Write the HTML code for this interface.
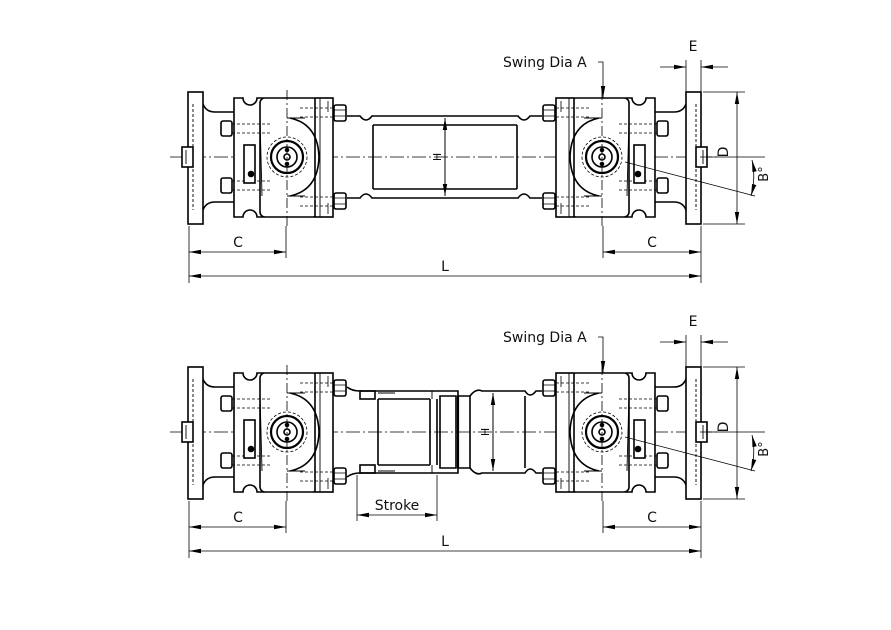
<!DOCTYPE html>
<html><head><meta charset="utf-8"><style>
body{margin:0;background:#fff}
svg{display:block}
text{font-family:"DejaVu Sans","Liberation Sans",sans-serif;fill:#111}
</style></head><body>
<svg width="891" height="630" viewBox="0 0 891 630" xmlns="http://www.w3.org/2000/svg">
<defs>
<marker id="a" markerWidth="12" markerHeight="6" refX="12" refY="3" orient="auto-start-reverse" markerUnits="userSpaceOnUse"><path d="M0,0.8 L12,3 L0,5.2 z" fill="#000"/></marker>
<g id="joint" fill="none" stroke="#000" stroke-width="1.6">
  <rect x="188" y="92" width="15" height="132" fill="#fff"/>
  <line x1="193" y1="104" x2="193" y2="210" stroke-dasharray="3,2" stroke-width="0.9"/>
  <rect x="182" y="147" width="11" height="20" fill="#fff"/>
  <line x1="186" y1="150" x2="186" y2="164" stroke-width="0.9"/>
  <path d="M203,104 Q206,112 215,112 L234,112 M203,210 Q206,202 215,202 L234,202"/>
  <path d="M234,98 L243,98 A7,7 0 0 0 257,98 L263,98 L263,217 L257,217 A7,7 0 0 0 243,217 L234,217 Z" fill="#fff"/>
  <rect x="260" y="98" width="58" height="119" rx="5" fill="#fff"/>
  <line x1="260" y1="118" x2="262" y2="196" stroke-width="0.9"/>
  <rect x="315" y="98" width="18" height="119" fill="#fff"/>
  <line x1="320" y1="98" x2="320" y2="217" stroke-width="0.9"/>
  <path d="M290,118 Q318,124 319,157 Q318,190 290,196" />
  <path d="M287,118 L305,118 M287,196 L305,196" stroke-width="0.9"/>
  <rect x="334" y="105" width="12" height="16" rx="2" fill="#fff"/>
  <rect x="334" y="193" width="12" height="16" rx="2" fill="#fff"/>
  <path d="M334,110 H346 M334,116 H346 M334,198 H346 M334,204 H346" stroke-width="0.8"/>
  <path d="M300,108 H334 M300,117 H334 M300,197 H334 M300,206 H334" stroke-dasharray="3,2" stroke-width="0.8"/>
  <rect x="221" y="121" width="11" height="15" rx="2" fill="#fff"/>
  <rect x="221" y="178" width="11" height="15" rx="2" fill="#fff"/>
  <path d="M232,124 H270 M232,133 H270 M232,181 H270 M232,190 H270" stroke-dasharray="3,2" stroke-width="0.8"/>
  <rect x="244" y="145" width="11" height="38" fill="#fff"/>
  <circle cx="251" cy="174" r="2.5" fill="#000"/>
  <circle cx="287" cy="157" r="20" stroke-dasharray="3,2" stroke-width="0.8"/>
  <circle cx="287" cy="157" r="16" stroke-width="2.2"/>
  <circle cx="287" cy="157" r="10"/>
  <circle cx="287" cy="157" r="3"/>
  <circle cx="287" cy="150" r="1.5" fill="#000"/>
  <circle cx="287" cy="164" r="1.5" fill="#000"/>
  <line x1="328" y1="101" x2="328" y2="112" stroke-width="0.8"/>
  <line x1="328" y1="203" x2="328" y2="214" stroke-width="0.8"/>
  <line x1="287" y1="90" x2="287" y2="226" stroke-dasharray="10,3,2,3" stroke-width="0.8"/>
</g>
<g id="shaftT" fill="none" stroke="#000" stroke-width="1.6">
  <path d="M347,116 L360,116 Q366,124 372,116 L518,116 Q524,124 530,116 L542,116"/>
  <path d="M347,198 L360,198 Q366,190 372,198 L518,198 Q524,190 530,198 L542,198"/>
  <path d="M373,125 H517 M373,189 H517 M373,125 V189 M517,125 V189"/>
</g>
</defs>

<line x1="170" y1="157" x2="720" y2="157" stroke="#000" stroke-width="0.8" stroke-dasharray="14,3,2,3"/>
<use href="#joint"/>
<use href="#joint" transform="translate(889,0) scale(-1,1)"/>
<use href="#shaftT"/>
<line x1="445" y1="118" x2="445" y2="196" stroke="#000" stroke-width="1" marker-start="url(#a)" marker-end="url(#a)"/>
<text x="437" y="161" font-size="11" transform="rotate(-90 437 157)" text-anchor="middle">H</text>

<g stroke="#000" stroke-width="0.8" fill="none">
<line x1="189" y1="226" x2="189" y2="283"/><line x1="286" y1="226" x2="286" y2="258"/>
<line x1="603" y1="226" x2="603" y2="258"/><line x1="701" y1="226" x2="701" y2="283"/>
<line x1="189" y1="252" x2="286" y2="252" marker-start="url(#a)" marker-end="url(#a)"/>
<line x1="603" y1="252" x2="701" y2="252" marker-start="url(#a)" marker-end="url(#a)"/>
<line x1="189" y1="276" x2="701" y2="276" marker-start="url(#a)" marker-end="url(#a)"/>
<path d="M598,62 H603 V98" marker-end="url(#a)"/>
<line x1="686" y1="60" x2="686" y2="92"/><line x1="701" y1="60" x2="701" y2="92"/>
<line x1="660" y1="67" x2="686" y2="67" marker-end="url(#a)"/><line x1="728" y1="67" x2="701" y2="67" marker-end="url(#a)"/>
<line x1="703" y1="92" x2="745" y2="92"/><line x1="703" y1="224" x2="745" y2="224"/>
<line x1="737" y1="92" x2="737" y2="224" marker-start="url(#a)" marker-end="url(#a)"/>
<line x1="700" y1="157" x2="765" y2="157"/>
<line x1="625" y1="162" x2="755" y2="196"/>
<path d="M752,160 Q756,178 751,196" marker-start="url(#a)" marker-end="url(#a)"/>
</g>
<text x="238" y="247" font-size="14" text-anchor="middle">C</text>
<text x="652" y="247" font-size="14" text-anchor="middle">C</text>
<text x="445" y="271" font-size="14" text-anchor="middle">L</text>
<text x="503" y="67" font-size="14">Swing Dia A</text>
<text x="693" y="51" font-size="14" text-anchor="middle">E</text>
<text x="733" y="157" font-size="14" text-anchor="middle" transform="rotate(-90 728 157)">D</text>
<text x="768" y="182" font-size="13" text-anchor="middle" transform="rotate(-90 764 178)">B°</text>

<g transform="translate(0,275)">
<line x1="170" y1="157" x2="720" y2="157" stroke="#000" stroke-width="0.8" stroke-dasharray="14,3,2,3"/>
<use href="#joint"/>
<use href="#joint" transform="translate(889,0) scale(-1,1)"/>
<g fill="none" stroke="#000" stroke-width="1.6">
  <path d="M347,112 Q352,116 360,116 L458,116 L458,121 L470,121 Q476,113 482,116 L525,116 Q530,124 536,116 L542,116"/>
  <path d="M347,202 Q352,198 360,198 L458,198 L458,193 L470,193 Q476,201 482,198 L525,198 Q530,190 536,198 L542,198"/>
  <path d="M378,124 H430 M378,190 H430 M378,124 V190 M437,124 V190 M430,124 V190"/>
  <path d="M440,121 H456 V193 H440 V121 Z"/>
  <path d="M458,121 V193" stroke-width="2.2"/>
  <path d="M470,121 V193 M525,121 V193"/>
  <rect x="360" y="116" width="15" height="8"/><rect x="360" y="190" width="15" height="8"/>
  <path d="M378,118 H395 M378,196 H395 M432,116 V124 M432,190 V198" stroke-width="0.9"/>
</g>
<line x1="493" y1="118" x2="493" y2="196" stroke="#000" stroke-width="1" marker-start="url(#a)" marker-end="url(#a)"/>
<text x="485" y="161" font-size="11" transform="rotate(-90 485 157)" text-anchor="middle">H</text>
<g stroke="#000" stroke-width="0.8" fill="none">
<line x1="189" y1="226" x2="189" y2="283"/><line x1="286" y1="226" x2="286" y2="258"/>
<line x1="603" y1="226" x2="603" y2="258"/><line x1="701" y1="226" x2="701" y2="283"/>
<line x1="189" y1="252" x2="286" y2="252" marker-start="url(#a)" marker-end="url(#a)"/>
<line x1="603" y1="252" x2="701" y2="252" marker-start="url(#a)" marker-end="url(#a)"/>
<line x1="189" y1="276" x2="701" y2="276" marker-start="url(#a)" marker-end="url(#a)"/>
<line x1="357" y1="200" x2="357" y2="246"/><line x1="437" y1="200" x2="437" y2="246"/>
<line x1="357" y1="240" x2="437" y2="240" marker-start="url(#a)" marker-end="url(#a)"/>
<path d="M598,62 H603 V98" marker-end="url(#a)"/>
<line x1="686" y1="60" x2="686" y2="92"/><line x1="701" y1="60" x2="701" y2="92"/>
<line x1="660" y1="67" x2="686" y2="67" marker-end="url(#a)"/><line x1="728" y1="67" x2="701" y2="67" marker-end="url(#a)"/>
<line x1="703" y1="92" x2="745" y2="92"/><line x1="703" y1="224" x2="745" y2="224"/>
<line x1="737" y1="92" x2="737" y2="224" marker-start="url(#a)" marker-end="url(#a)"/>
<line x1="700" y1="157" x2="765" y2="157"/>
<line x1="625" y1="162" x2="755" y2="196"/>
<path d="M752,160 Q756,178 751,196" marker-start="url(#a)" marker-end="url(#a)"/>
</g>
<text x="238" y="247" font-size="14" text-anchor="middle">C</text>
<text x="652" y="247" font-size="14" text-anchor="middle">C</text>
<text x="445" y="271" font-size="14" text-anchor="middle">L</text>
<text x="397" y="235" font-size="14" text-anchor="middle">Stroke</text>
<text x="503" y="67" font-size="14">Swing Dia A</text>
<text x="693" y="51" font-size="14" text-anchor="middle">E</text>
<text x="733" y="157" font-size="14" text-anchor="middle" transform="rotate(-90 728 157)">D</text>
<text x="768" y="182" font-size="13" text-anchor="middle" transform="rotate(-90 764 178)">B°</text>
</g>
</svg>
</body></html>
